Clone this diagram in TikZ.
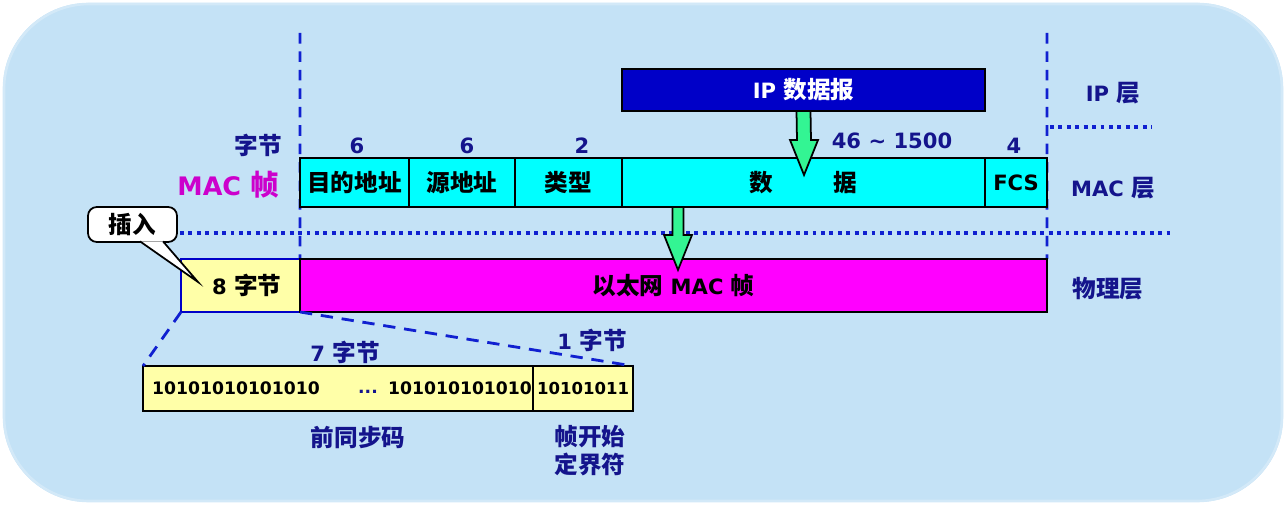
\documentclass[tikz,border=0pt]{standalone}
\usepackage{fontspec}
\usepackage{xcolor}
\setmainfont{DejaVu Sans}
\newfontfamily\cjkfont[Scale=1.12]{Noto Sans CJK SC}
\newcommand\zh[1]{{\cjkfont #1}}
\usetikzlibrary{calc,backgrounds}

\definecolor{bgblue}{HTML}{C4E2F6}
\definecolor{textnavy}{HTML}{14148C}
\definecolor{lineblue}{HTML}{1020D0}
\definecolor{ipblue}{HTML}{0000C8}
\definecolor{macfill}{HTML}{00FFFF}
\definecolor{ethfill}{HTML}{FF00FF}
\definecolor{prefill}{HTML}{FFFFA8}
\definecolor{arrowgreen}{HTML}{33F593}
\definecolor{titlemag}{HTML}{CC00CC}

% block arrow pointing down: start, tip, shaft half-width
\newcommand\dnarrow[3]{%
  \filldraw[fill=arrowgreen, draw=black, line width=1pt]
    ($(#1)+(-#3,0)$) -- ($(#2)+(-#3,-35)$) -- ($(#2)+(-14,-35)$) -- (#2)
    -- ($(#2)+(14,-35)$) -- ($(#2)+(#3,-35)$) -- ($(#1)+(#3,0)$) -- cycle;}

\begin{document}
\begin{tikzpicture}[x=0.02cm, y=-0.02cm,
  field/.style={draw=black, line width=1.3pt, fill=macfill, minimum height=0.98cm,
    inner sep=0pt, outer sep=0pt, font=\bfseries\fontsize{12}{14}\selectfont},
  physbox/.style={draw=black, line width=1.3pt, minimum height=1.06cm,
    inner sep=0pt, outer sep=0pt, font=\bfseries\fontsize{12}{14}\selectfont},
  bitbox/.style={draw=black, line width=1.1pt, fill=prefill, minimum height=0.9cm,
    inner sep=0pt, outer sep=0pt},
  bits/.style={font=\bfseries\fontsize{9.8}{12}\selectfont, inner sep=0pt},
  lbl/.style={text=textnavy, font=\bfseries\fontsize{12}{14}\selectfont, inner sep=1pt},
  vdash/.style={draw=lineblue, line width=1.6pt, dash pattern=on 6pt off 4.5pt},
  dotline/.style={draw=lineblue, line width=2.2pt, dash pattern=on 2.2pt off 2.6pt},
  zoomline/.style={draw=lineblue, line width=1.6pt, dash pattern=on 7pt off 5pt}]

  \useasboundingbox (0,0) rectangle (1286,506);
  \begin{scope}[on background layer]
    \fill[bgblue, rounded corners=1.7cm] (3,3) rectangle (1283,502);
    \draw[white!25!bgblue, line width=1.5pt, rounded corners=1.7cm] (4,4) rectangle (1282,501);
  \end{scope}

  % IP datagram
  \node[field, fill=ipblue, text=white, minimum width=7.26cm, minimum height=0.84cm]
    (ip) at (803.5,90) {IP \zh{数据报}};

  % MAC frame fields
  \node[field, minimum width=2.18cm] (dst)  at (354.5,182.5) {\zh{目的地址}};
  \node[field, minimum width=2.12cm] (src)  at (462,182.5)   {\zh{源地址}};
  \node[field, minimum width=2.14cm] (type) at (568.5,182.5) {\zh{类型}};
  \node[field, minimum width=7.26cm] (data) at (803.5,182.5) {\zh{数\hspace{1.2cm}据}};
  \node[field, minimum width=1.24cm] (fcs)  at (1016,182.5)  {FCS};

  % byte counts
  \node[lbl] (nbytes) at (258,145) {\zh{字节}};
  \node[lbl] (ndst)   at (357,146) {6};
  \node[lbl] (nsrc)   at (467,146) {6};
  \node[lbl] (ntype)  at (582,146) {2};
  \node[lbl] (ndata)  at (892,141) {46 \textasciitilde{} 1500};
  \node[lbl] (nfcs)   at (1014,146) {4};
  \node[lbl, text=titlemag, font=\bfseries\fontsize{14.5}{16}\selectfont]
    (mactitle) at (228,185) {MAC \zh{帧}};

  % physical layer
  \node[physbox, draw=ipblue, fill=prefill, minimum width=2.38cm] (pre8) at (240.5,285.5) {\hspace{0.25cm}8 \zh{字节}};
  \node[physbox, fill=ethfill, minimum width=14.94cm] (eth) at (673.5,285.5) {\zh{以太网} MAC \zh{帧}};

  % layer names
  \node[lbl] (iplayer)  at (1113,93)  {IP \zh{层}};
  \node[lbl] (maclayer) at (1113,188) {MAC \zh{层}};
  \node[lbl] (phylayer) at (1108,289) {\zh{物理层}};

  % layer separators
  \coordinate (ltop) at (300,33);
  \coordinate (rtop) at (1047,33);
  \coordinate (d1a) at (1050,127);
  \coordinate (d1b) at (1152,127);
  \coordinate (d2a) at (180,233);
  \coordinate (d2b) at (1170,233);
  \begin{scope}[on background layer]
    \draw[vdash] (ltop) -- (pre8.south east);
    \draw[vdash] (rtop) -- (eth.north east);
    \draw[dotline] (d1a) -- (d1b);
    \draw[dotline] (d2a) -- (d2b);
  \end{scope}

  % insertion callout
  \node[draw=black, fill=white, line width=1pt, rounded corners=5pt,
    minimum width=1.78cm, minimum height=0.7cm, inner sep=0pt,
    font=\bfseries\fontsize{12}{14}\selectfont] (ins) at (132.5,224.5) {\zh{插入}};
  \coordinate (instip) at (198,282);
  \filldraw[fill=white, draw=black, line width=1pt]
    ($(ins.south)+(7.5,-1.5)$) -- (instip) -- ($(ins.south)+(30.5,-1.5)$);

  % encapsulation arrows
  \coordinate (tip1) at (804,175);
  \coordinate (tip2) at (678,270);
  \dnarrow{ip.south}{tip1}{7}
  \dnarrow{data.south west -| tip2}{tip2}{5.5}

  % preamble detail
  \node[bitbox, minimum width=7.8cm] (pre7) at (338,388.5) {};
  \node[bitbox, minimum width=2.0cm] (sfd)  at (583,388.5) {};
  \node[bits] (bitsa) at (236,388) {10101010101010};
  \node[bits, text=textnavy] (bitsdots) at (368,392) {...};
  \node[bits] (bitsb) at (460,388) {101010101010};
  \node[bits, font=\bfseries\fontsize{9.4}{12}\selectfont] (bitsc) at (583,388) {10101011};

  \draw[zoomline] (pre8.south west) -- (pre7.north west);
  \draw[zoomline] (pre8.south east) -- (sfd.north east);

  \node[lbl] (n7)  at (345,352) {7 \zh{字节}};
  \node[lbl] (n1)  at (592,340) {1 \zh{字节}};
  \node[lbl] (preamble) at (358,438) {\zh{前同步码}};
  \node[lbl, align=center, font=\bfseries\fontsize{12}{15.9}\selectfont]
    (sfdname) at (590,451) {\zh{帧开始}\\\zh{定界符}};

\end{tikzpicture}
\end{document}
